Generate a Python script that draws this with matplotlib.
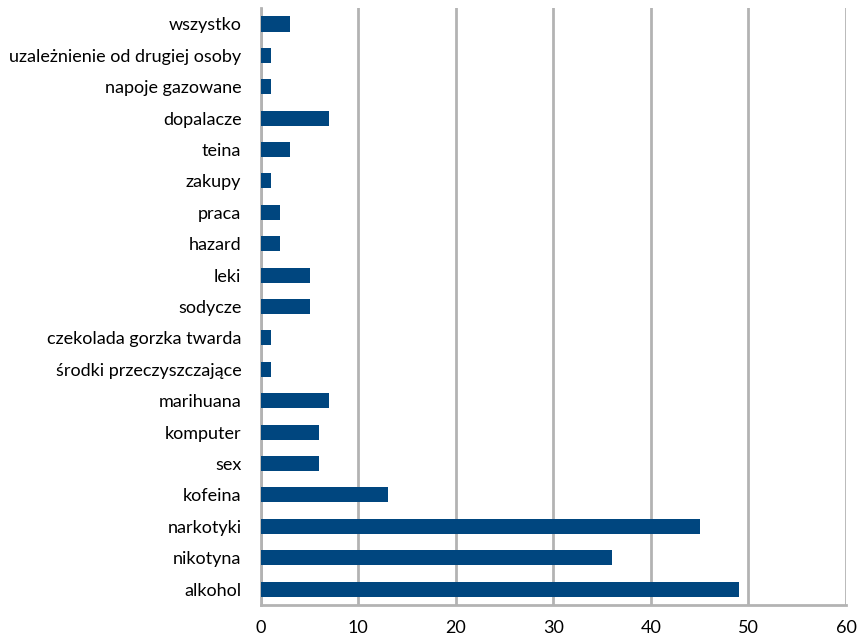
import matplotlib
matplotlib.use('Agg')
from matplotlib import pyplot as plt

categories = ['alkohol', 'nikotyna', 'narkotyki', 'kofeina', 'sex', 'komputer',
              'marihuana', 'środki przeczyszczające', 'czekolada gorzka twarda',
              'sodycze', 'leki', 'hazard', 'praca', 'zakupy', 'teina',
              'dopalacze', 'napoje gazowane', 'uzależnienie od drugiej osoby',
              'wszystko']
values = [49, 36, 45, 13, 6, 6, 7, 1, 1, 5, 5, 2, 2, 1, 3, 7, 1, 1, 3]
xticks = [0, 10, 20, 30, 40, 50, 60]

plt.rcParams['font.family'] = ['Lato', 'DejaVu Sans']

fig = plt.figure(figsize=(8.58, 6.36), dpi=100)
ax = fig.add_axes([0.304, 0.049, 0.682, 0.938])

positions = range(len(categories))
ax.barh(positions, values, height=0.48, color='#00467f', zorder=3)
ax.set_yticks(list(positions))
ax.set_yticklabels(categories, fontsize=13)
ax.set_xticks(xticks)
ax.set_xticklabels([str(t) for t in xticks], fontsize=13)
ax.set_xlim(0, 60)
ax.set_ylim(-0.5, len(categories) - 0.5)

ax.grid(axis='x', color='#b3b3b3', linewidth=2, zorder=0)
for side in ['top', 'right']:
    ax.spines[side].set_visible(False)
for side in ['left', 'bottom']:
    ax.spines[side].set_color('#b3b3b3')
    ax.spines[side].set_linewidth(2)
ax.tick_params(axis='both', length=0, colors='black')
ax.tick_params(axis='y', pad=14)
ax.tick_params(axis='x', pad=11)

fig.savefig('out.png', dpi=100)
